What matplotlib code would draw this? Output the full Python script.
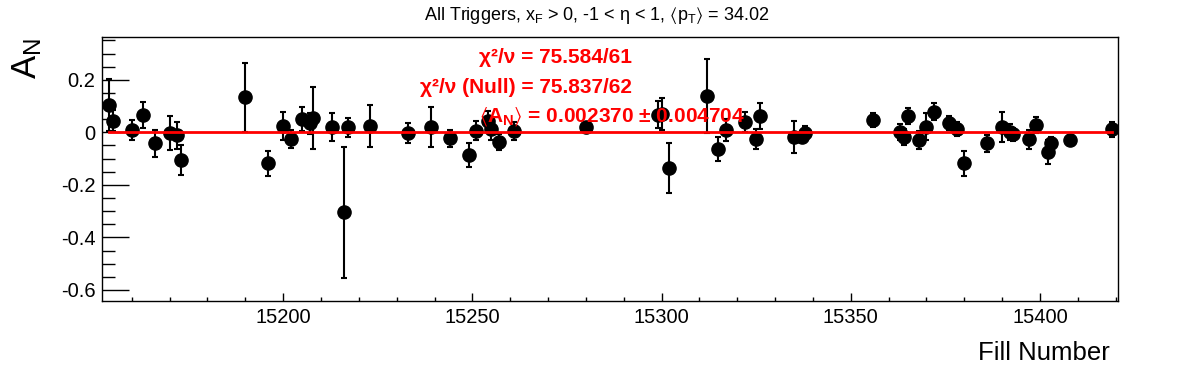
import matplotlib
matplotlib.use("Agg")
import matplotlib.pyplot as plt
from matplotlib.ticker import MultipleLocator
import numpy as np

plt.rcParams['font.family'] = ['Liberation Sans', 'DejaVu Sans']
plt.rcParams['axes.unicode_minus'] = False
plt.rcParams['mathtext.fontset'] = 'custom'
plt.rcParams['mathtext.rm'] = 'Liberation Sans'
plt.rcParams['mathtext.it'] = 'Liberation Sans:italic'
plt.rcParams['mathtext.bf'] = 'Liberation Sans:bold'
plt.rcParams['mathtext.fallback'] = 'stixsans'

# ---- data ----
fills = [15154, 15155, 15160, 15163, 15166, 15170, 15172, 15173, 15190, 15196,
         15200, 15202, 15205, 15207, 15208, 15213, 15216, 15217, 15223, 15233,
         15239, 15244, 15249, 15251, 15254, 15255, 15257, 15261, 15280, 15299,
         15300, 15302, 15312, 15315, 15317, 15322, 15325, 15326, 15335, 15337,
         15338, 15356, 15363, 15364, 15365, 15368, 15370, 15372, 15376, 15378,
         15380, 15386, 15390, 15392, 15393, 15397, 15399, 15402, 15403, 15408,
         15419]
an = [0.104, 0.044, 0.009, 0.066, -0.042, -0.004, -0.011, -0.106, 0.133, -0.118,
      0.024, -0.024, 0.051, 0.035, 0.056, 0.020, -0.304, 0.020, 0.025, -0.004,
      0.021, -0.023, -0.086, 0.006, 0.042, 0.012, -0.037, 0.005, 0.019, 0.068,
      0.070, -0.135, 0.138, -0.064, 0.009, 0.038, -0.026, 0.062, -0.018, -0.016,
      -0.002, 0.047, 0.000, -0.018, 0.061, -0.029, 0.021, 0.079, 0.036, 0.012,
      -0.118, -0.042, 0.021, 0.000, -0.007, -0.027, 0.028, -0.076, -0.042, -0.029,
      0.012]
an_err = [0.098, 0.040, 0.037, 0.051, 0.052, 0.065, 0.051, 0.057, 0.132, 0.048,
          0.052, 0.034, 0.045, 0.040, 0.118, 0.052, 0.250, 0.036, 0.081, 0.038,
          0.076, 0.032, 0.047, 0.036, 0.040, 0.040, 0.032, 0.035, 0.020, 0.050,
          0.060, 0.095, 0.140, 0.046, 0.041, 0.038, 0.037, 0.051, 0.060, 0.020,
          0.025, 0.028, 0.030, 0.032, 0.031, 0.033, 0.051, 0.033, 0.028, 0.027,
          0.048, 0.032, 0.057, 0.030, 0.025, 0.035, 0.032, 0.046, 0.025, 0.020,
          0.028]
fit_value = 0.002370
x_range = (15152.2, 15420.7)
y_range = (-0.641, 0.362)
x_ticks_major = [15200, 15250, 15300, 15350, 15400]
y_ticks_major = [-0.6, -0.4, -0.2, 0.0, 0.2]
y_tick_labels = ['-0.6', '-0.4', '-0.2', '0', '0.2']

W, H = 1196, 372
fig = plt.figure(figsize=(W / 100, H / 100), dpi=100)
ax = fig.add_axes([102.3 / W, 1 - 300.7 / H, (1118.3 - 102.3) / W, (300.7 - 37.3) / H])

ax.axhline(0, color='#c8c8c8', lw=0.8, ls=(0, (3, 3)), zorder=1)
ax.errorbar(fills, an, yerr=an_err, fmt='o', color='black', ms=9.5,
            elinewidth=1.5, capsize=1.9, capthick=1.5, zorder=3)
ax.plot([fills[0], fills[-1]], [fit_value, fit_value], color='#ff0000', lw=2.0, zorder=4)

ax.set_xlim(*x_range)
ax.set_ylim(*y_range)
ax.set_xticks(x_ticks_major)
ax.set_xticklabels([str(v) for v in x_ticks_major])
ax.set_yticks(y_ticks_major)
ax.set_yticklabels(y_tick_labels)
ax.xaxis.set_minor_locator(MultipleLocator(10))
ax.yaxis.set_minor_locator(MultipleLocator(0.05))
ax.tick_params(axis='both', which='both', direction='in', top=False, right=False,
               labelsize=14.5, width=1.0)
ax.tick_params(axis='y', which='major', length=19.5, pad=5)
ax.tick_params(axis='y', which='minor', length=9.7)
ax.tick_params(axis='x', which='major', length=6.0, pad=5)
ax.tick_params(axis='x', which='minor', length=3.0)
for s in ax.spines.values():
    s.set_linewidth(1.0)

def px(x, y):
    return x / W, 1 - y / H

fig.text(*px(597, 19.5), r'All Triggers, x$_{\rm F}$ > 0, -1 < η < 1, $\langle$p$_{\rm T}\rangle$ = 34.02',
         ha='center', va='baseline', fontsize=13)

fig.text(*px(632, 63.3), 'χ²/ν = 75.584/61', ha='right', va='baseline',
         fontsize=15, fontweight='bold', color='#ff0000', zorder=10)
fig.text(*px(632, 93.0), 'χ²/ν (Null) = 75.837/62', ha='right', va='baseline',
         fontsize=15, fontweight='bold', color='#ff0000', zorder=10)
fig.text(*px(479, 122.0), r'$\langle\mathbf{A}_{\mathbf{N}}\rangle$ = 0.002370 ± 0.004704',
         ha='left', va='baseline', fontsize=15, fontweight='bold', color='#ff0000', zorder=10)

fig.text(*px(27, 38), r'A$_{\rm N}$', rotation=90, ha='center', va='top', fontsize=25)
fig.text(*px(1110, 360), 'Fill Number', ha='right', va='baseline', fontsize=18.5)

fig.savefig('out.png', dpi=100)
